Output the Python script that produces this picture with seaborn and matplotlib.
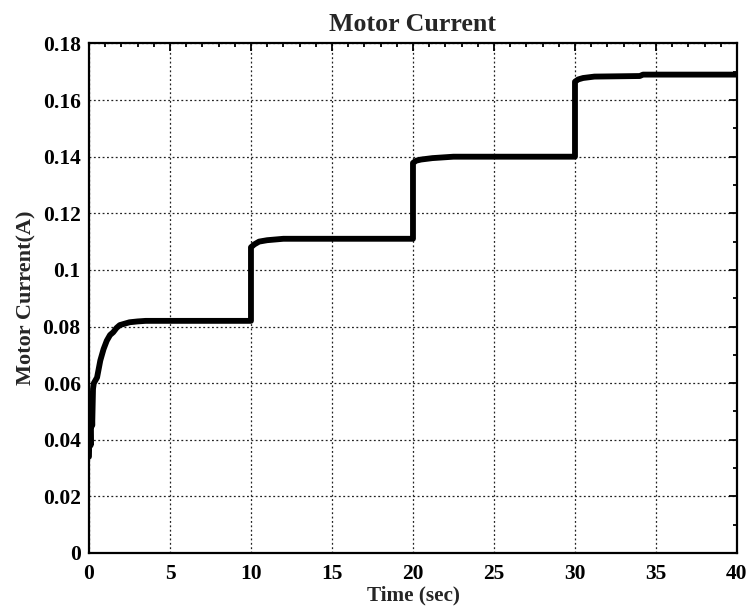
import matplotlib
matplotlib.use("Agg")
import matplotlib.pyplot as plt
import seaborn as sns
import pandas as pd
from matplotlib.ticker import MultipleLocator

time_sec = [0.0, 0.05, 0.1, 0.15, 0.2, 0.25, 0.3, 0.4, 0.5, 0.7, 0.9, 1.1, 1.3, 1.5, 1.7, 1.9, 2.2, 2.5, 3.0, 3.5,
            10.0, 10.0, 10.2, 10.5, 11.0, 12.0, 20.0, 20.0, 20.2, 20.5, 21.2, 22.5,
            30.0, 30.0, 30.2, 30.5, 31.2, 34.0, 34.2, 40.0]
current_a = [0.034, 0.05, 0.038, 0.056, 0.045, 0.058, 0.06, 0.061, 0.062, 0.068, 0.072, 0.075, 0.077, 0.078, 0.0795, 0.0805, 0.081, 0.0815, 0.0818, 0.082,
             0.082, 0.108, 0.109, 0.110, 0.1105, 0.111, 0.111, 0.1378, 0.1386, 0.139, 0.1395, 0.140,
             0.140, 0.1665, 0.1673, 0.1678, 0.1683, 0.1685, 0.169, 0.169]

x_ticks = [0, 5, 10, 15, 20, 25, 30, 35, 40]
y_ticks = [0, 0.02, 0.04, 0.06, 0.08, 0.1, 0.12, 0.14, 0.16, 0.18]
y_tick_labels = ["0", "0.02", "0.04", "0.06", "0.08", "0.1", "0.12", "0.14", "0.16", "0.18"]

df = pd.DataFrame({"t": time_sec, "i": current_a})

sns.set_style("white")
plt.rcParams["font.family"] = ["Liberation Serif", "DejaVu Serif"]
plt.rcParams["font.weight"] = "bold"

fig = plt.figure(figsize=(7.47, 6.08), dpi=100)
ax = fig.add_axes([0.1191, 0.0905, 0.8675, 0.838])

sns.lineplot(data=df, x="t", y="i", estimator=None, sort=False, color="black", linewidth=4.2, ax=ax)

ax.set_xlim(0, 40)
ax.set_ylim(0, 0.18)
ax.set_xticks(x_ticks)
ax.set_xticklabels([str(v) for v in x_ticks])
ax.set_yticks(y_ticks)
ax.set_yticklabels(y_tick_labels)
ax.xaxis.set_minor_locator(MultipleLocator(1))
ax.yaxis.set_minor_locator(MultipleLocator(0.01))
ax.tick_params(which="both", direction="in", top=True, right=True, labelsize=15.5, width=1.3, colors="black")
ax.tick_params(which="major", length=6)
ax.tick_params(axis="x", which="major", pad=8)
ax.tick_params(axis="y", which="major", pad=6)
ax.tick_params(which="minor", length=3)
for lab in ax.get_xticklabels() + ax.get_yticklabels():
    lab.set_fontweight("bold")
ax.grid(True, which="major", linestyle=(0, (1.5, 2.0)), color="#222222", linewidth=0.9)
for s in ax.spines.values():
    s.set_linewidth(1.6)
    s.set_color("black")

ax.set_title("Motor Current", fontsize=18.6, fontweight="bold", pad=9)
ax.set_xlabel("Time (sec)", fontsize=15.3, fontweight="bold", labelpad=1)
ax.set_ylabel("Motor Current(A)", fontsize=16, fontweight="bold", labelpad=4)

fig.savefig("out.png", dpi=100)
